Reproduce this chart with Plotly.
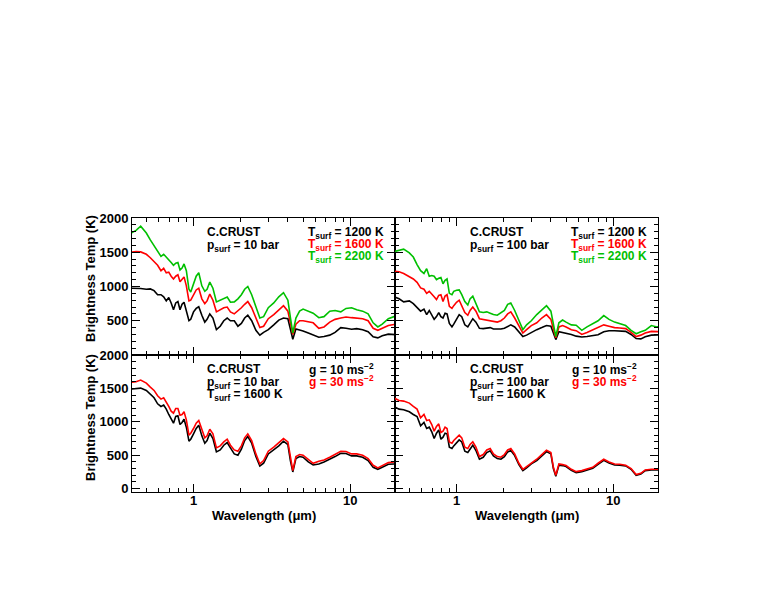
import math
import plotly.graph_objects as go

# wavelength grid (micron), shared by all spectra
wavelength = [0.40, 0.43, 0.46, 0.50, 0.53, 0.56, 0.59, 0.62, 0.645, 0.67,
              0.695, 0.72, 0.745, 0.77, 0.795, 0.82, 0.845, 0.87, 0.90, 0.935,
              0.96, 1.00, 1.04, 1.08, 1.13, 1.18, 1.22, 1.27, 1.33, 1.40,
              1.48, 1.56, 1.64, 1.72, 1.82, 1.92, 2.02, 2.12, 2.22, 2.35,
              2.50, 2.65, 2.80, 3.00, 3.25, 3.50, 3.75, 4.00, 4.15, 4.30,
              4.50, 4.75, 5.0, 5.4, 5.8, 6.3, 6.8, 7.4, 8.0, 8.7,
              9.4, 10.2, 11.0, 12.0, 13.0, 14.0, 15.0, 16.0, 17.5, 19.0, 20.0]

# top left: psurf = 10 bar
p10_t1200 = [975, 975, 970, 960, 965, 940, 880, 880, 850, 790,
             840, 760, 660, 760, 780, 660, 740, 770, 660, 500,
             520, 630, 680, 705, 580, 480, 520, 600, 540, 370,
             420, 500, 540, 500, 500, 420, 460, 540, 580, 500,
             360, 290, 330, 370, 440, 510, 540, 530, 380, 230,
             380, 370, 350, 320, 295, 260, 270, 290, 330, 400,
             390, 375, 385, 370, 340, 265, 250, 280, 305, 300, 295]
p10_t1600 = [1500, 1510, 1505, 1470, 1420, 1370, 1310, 1230, 1265, 1200,
             1210, 1150, 1110, 1150, 1170, 1070, 1100, 1140, 1010, 790,
             800, 880, 950, 975, 820, 750, 790, 890, 800, 630,
             660, 690, 700, 630, 600, 640, 690, 740, 780, 690,
             540, 400, 420, 530, 590, 650, 720, 640, 450, 300,
             450, 500, 500, 490, 470, 390, 410, 480, 520, 540,
             555, 545, 535, 530, 500, 390, 360, 390, 430, 445, 445]
p10_t2200 = [1780, 1820, 1880, 1780, 1680, 1590, 1510, 1440, 1470, 1430,
             1400, 1350, 1310, 1340, 1350, 1240, 1270, 1330, 1230, 960,
             920, 1050, 1150, 1200, 1010, 930, 960, 1065, 975, 775,
             800, 830, 845, 770, 775, 820, 880, 960, 1000, 880,
             700, 540, 560, 690, 760, 850, 910, 800, 550, 320,
             540, 640, 670, 640, 610, 545, 560, 640, 650, 630,
             680, 690, 660, 640, 600, 470, 410, 450, 530, 560, 565]

# top right: psurf = 100 bar
p100_t1200 = [850, 820, 775, 790, 750, 700, 640, 670, 590, 650,
              580, 520, 560, 620, 560, 540, 610, 600, 460, 410,
              450, 530, 590, 560, 440, 410, 470, 530, 480, 390,
              385, 390, 400, 380, 375, 380, 390, 420, 440, 410,
              340, 270, 290, 330, 370, 400, 430, 420, 320, 225,
              340, 330, 315, 300, 275, 262, 270, 285, 295, 340,
              355, 355, 350, 345, 300, 240, 235, 265, 290, 295, 295]
p100_t1600 = [1225, 1215, 1190, 1150, 1110, 1060, 980, 960, 900, 930,
              880, 850, 810, 870, 880, 780, 860, 880, 710, 680,
              720, 770, 800, 720, 620, 580, 650, 700, 640, 530,
              520, 510, 500, 490, 480, 500, 540, 600, 630, 540,
              420, 320, 370, 430, 470, 540, 590, 520, 380, 250,
              410, 430, 410, 370, 355, 300, 330, 370, 400, 440,
              420, 400, 395, 385, 330, 270, 290, 320, 345, 340, 340]
p100_t2200 = [1510, 1530, 1545, 1490, 1430, 1320, 1230, 1190, 1260, 1150,
              1160, 1150, 1100, 1120, 1130, 1040, 1090, 1110, 900, 880,
              930, 945, 950, 880, 780, 730, 820, 860, 760, 630,
              620, 630, 610, 590, 580, 610, 650, 740, 760, 650,
              490, 370, 440, 500, 590, 650, 720, 640, 450, 270,
              470, 510, 480, 440, 435, 360, 410, 460, 500, 575,
              520, 480, 455, 430, 360, 310, 340, 360, 430, 410, 410]

# bottom left: psurf = 10 bar, Tsurf = 1600 K
p10_g10 = [1490, 1500, 1505, 1470, 1410, 1360, 1270, 1230, 1250, 1190,
           1110, 1040, 980, 1080, 1090, 960, 990, 1040, 920, 710,
           740, 820, 900, 950, 790, 680, 720, 830, 750, 550,
           580, 650, 690, 610, 520, 500, 590, 720, 780, 680,
           480, 340, 380, 520, 580, 640, 710, 660, 420, 250,
           450, 480, 470, 400, 355, 370, 400, 440, 480, 530,
           525, 490, 490, 470, 420, 320, 290, 320, 365, 370, 370]
p10_g30 = [1590, 1600, 1625, 1580, 1520, 1470, 1390, 1340, 1360, 1300,
           1230, 1160, 1130, 1200, 1200, 1100, 1110, 1150, 1030, 800,
           830, 900, 980, 1020, 870, 760, 790, 890, 820, 610,
           640, 700, 740, 650, 580, 560, 640, 760, 820, 720,
           520, 370, 420, 560, 620, 680, 750, 700, 450, 270,
           480, 510, 500, 430, 380, 410, 430, 470, 510, 560,
           555, 520, 520, 500, 450, 350, 310, 340, 390, 400, 400]

# bottom right: psurf = 100 bar, Tsurf = 1600 K
p100_g10 = [1225, 1190, 1180, 1150, 1110, 1080, 940, 990, 900, 920,
            850, 750, 830, 880, 740, 770, 830, 820, 620, 600,
            640, 690, 730, 700, 560, 540, 600, 650, 570, 440,
            470, 540, 565, 490, 450, 440, 480, 550, 570, 495,
            360, 270, 310, 370, 420, 490, 555, 520, 300, 185,
            350, 345, 330, 275, 240, 255, 275, 305, 365, 425,
            385, 355, 350, 340, 290, 200, 220, 270, 280, 280, 280]
p100_g30 = [1355, 1320, 1310, 1280, 1230, 1190, 1060, 1110, 1020, 1030,
            960, 860, 930, 970, 840, 860, 920, 900, 700, 680,
            720, 760, 800, 760, 620, 600, 660, 700, 620, 480,
            510, 580, 600, 520, 480, 470, 510, 580, 600, 520,
            380, 290, 330, 390, 440, 510, 575, 540, 320, 200,
            370, 360, 345, 290, 255, 270, 290, 320, 380, 440,
            400, 370, 365, 350, 300, 210, 230, 280, 290, 290, 290]

BLACK = "black"
RED = "#ff0000"
GREEN = "#00c000"
FONT = "Liberation Sans"

fig = go.Figure()

panels = [
    ("x", "y", [(p10_t1200, BLACK), (p10_t1600, RED), (p10_t2200, GREEN)]),
    ("x2", "y2", [(p100_t1200, BLACK), (p100_t1600, RED), (p100_t2200, GREEN)]),
    ("x3", "y3", [(p10_g10, BLACK), (p10_g30, RED)]),
    ("x4", "y4", [(p100_g10, BLACK), (p100_g30, RED)]),
]
for xa, ya, series in panels:
    for vals, col in series:
        fig.add_trace(go.Scatter(x=wavelength, y=vals, mode="lines",
                                 line=dict(color=col, width=1.6),
                                 xaxis=xa, yaxis=ya, showlegend=False,
                                 hoverinfo="skip"))

tickfont = dict(family=FONT, size=13, color="black", weight="bold")
common = dict(showline=True, linecolor="black", linewidth=1, mirror="ticks",
              ticks="inside", ticklen=8, tickwidth=1, tickcolor="black",
              showgrid=False, zeroline=False, tickfont=tickfont)

xminor = dict(tickmode="array",
              tickvals=[0.5, 0.6, 0.7, 0.8, 0.9, 2, 3, 4, 5, 6, 7, 8, 9],
              ticks="inside", ticklen=4, tickcolor="black", showgrid=False)
yminor = dict(tickmode="linear", tick0=0, dtick=100, ticks="inside",
              ticklen=4, tickcolor="black", showgrid=False)

xr = [math.log10(0.405), math.log10(19.3)]


def xax(dom, anchor, labels):
    return dict(common, type="log", range=xr, domain=dom, anchor=anchor,
                tickmode="array", tickvals=[1, 10], ticktext=["1", "10"],
                showticklabels=labels, minor=xminor, ticklabelstandoff=-4)


def yax(dom, anchor, rng, vals, labels):
    return dict(common, range=rng, domain=dom, anchor=anchor,
                tickmode="array", tickvals=vals,
                ticktext=[str(v) for v in vals],
                showticklabels=labels, minor=yminor)


top_ticks = [500, 1000, 1500, 2000]
bot_ticks = [0, 500, 1000, 1500, 2000]

# the page body adds 8 px on the left and top, so margins are trimmed by 8
fig.update_layout(
    width=770, height=595,
    margin=dict(l=124, r=120, t=210, b=111),
    paper_bgcolor="white", plot_bgcolor="white",
    xaxis=xax([0, 0.5], "y", False),
    yaxis=yax([0.5, 1], "x", [0, 2000], top_ticks, True),
    xaxis2=xax([0.5, 1], "y2", False),
    yaxis2=yax([0.5, 1], "x2", [0, 2000], top_ticks, False),
    xaxis3=xax([0, 0.5], "y3", True),
    yaxis3=yax([0, 0.5], "x3", [-50, 2000], bot_ticks, True),
    xaxis4=xax([0.5, 1], "y4", True),
    yaxis4=yax([0, 0.5], "x4", [-50, 2000], bot_ticks, False),
)


def px(xp, yp):
    return (xp - 132) / 526, (492 - yp) / 274


def note(text, xp, yp, color=BLACK, xanchor="left", angle=0, size=12):
    x, y = px(xp, yp)
    fig.add_annotation(text=text, x=x, y=y, xref="paper", yref="paper",
                       xanchor=xanchor, yanchor="middle", showarrow=False,
                       textangle=angle,
                       font=dict(family=FONT, size=size, color=color,
                                 weight="bold"))


# top left
note("C.CRUST", 205, 232)
note("p<sub>surf</sub> = 10 bar", 205, 246)
note("T<sub>surf</sub> = 1200 K", 386, 233, BLACK, "right")
note("T<sub>surf</sub> = 1600 K", 386, 245, RED, "right")
note("T<sub>surf</sub> = 2200 K", 386, 257, GREEN, "right")
# top right
note("C.CRUST", 468, 232)
note("p<sub>surf</sub> = 100 bar", 468, 246)
note("T<sub>surf</sub> = 1200 K", 649, 233, BLACK, "right")
note("T<sub>surf</sub> = 1600 K", 649, 245, RED, "right")
note("T<sub>surf</sub> = 2200 K", 649, 257, GREEN, "right")
# bottom left
note("C.CRUST", 205, 369)
note("p<sub>surf</sub> = 10 bar", 205, 383)
note("T<sub>surf</sub> = 1600 K", 205, 395)
note("g = 10 ms<sup>−2</sup>", 376, 369, BLACK, "right")
note("g = 30 ms<sup>−2</sup>", 376, 381, RED, "right")
# bottom right
note("C.CRUST", 468, 369)
note("p<sub>surf</sub> = 100 bar", 468, 383)
note("T<sub>surf</sub> = 1600 K", 468, 395)
note("g = 10 ms<sup>−2</sup>", 639, 369, BLACK, "right")
note("g = 30 ms<sup>−2</sup>", 639, 381, RED, "right")

# axis titles
note("Brightness Temp (K)", 90, 279, BLACK, "center", -90, 13)
note("Brightness Temp (K)", 90, 418, BLACK, "center", -90, 13)
note("Wavelength (μm)", 264, 515, BLACK, "center", 0, 13)
note("Wavelength (μm)", 527, 515, BLACK, "center", 0, 13)

fig.write_html("out.html")
